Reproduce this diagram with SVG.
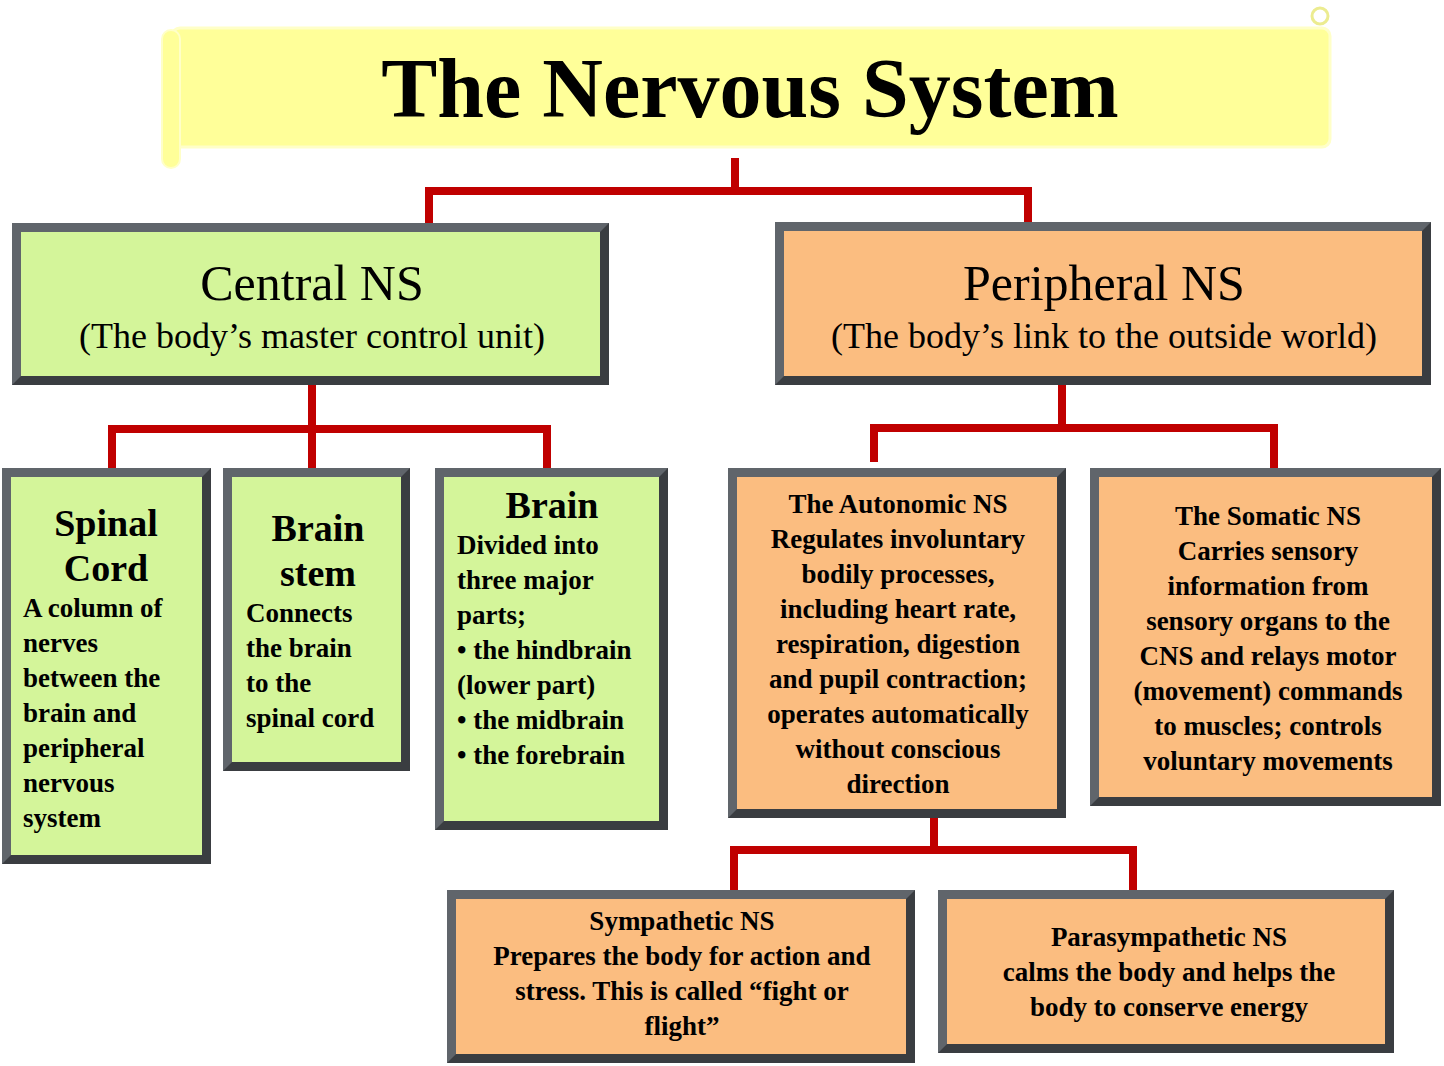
<svg xmlns="http://www.w3.org/2000/svg" width="1444" height="1066" viewBox="0 0 1444 1066">
<style>
.o{fill:#3a3d41}
.hl{fill:#60656b}
.g{fill:#d4f59a}
.p{fill:#fbbd80}
.ln{stroke:#6b6b50;stroke-opacity:.5;stroke-width:2;fill:none}
text{font-family:"Liberation Serif","Times New Roman",serif;fill:#000;text-anchor:middle}
.b{font-weight:bold;font-size:27px}
.n{font-size:27px}
.l{text-anchor:start}
.c{fill:none;stroke:#c00000;stroke-width:8}
</style>
<rect width="1444" height="1066" fill="#fff"/>
<g id="title">
<rect x="172" y="28" width="1158" height="119" rx="8" fill="#ffff99" stroke="#ffffc8" stroke-width="3"/>
<rect x="162" y="30" width="18" height="138" rx="9" fill="#ffff99" stroke="#ffffc8" stroke-width="2"/>
<circle cx="1320" cy="16" r="8" fill="none" stroke="#ecec90" stroke-width="3"/>
<text x="750" y="117" style="font-size:84px;font-weight:bold">The Nervous System</text>
</g>
<g id="connectors">
<path class="c" d="M735 158V191M429 228V191H1028V228"/>
<path class="c" d="M312 385V470M112 470V429H547V470"/>
<path class="c" d="M1062 385V428M874 462V428H1274V470"/>
<path class="c" d="M934 818V850M734 893V850H1133V893"/>
</g>
<g id="central">
<rect class="o" x="12" y="223" width="597" height="162"/><path class="hl" d="M12 223H609L600 232H21V376L12 385Z"/>
<rect class="g" x="21" y="232" width="579" height="144"/>
<text x="312" y="300" style="font-size:50px">Central NS</text>
<text x="312" y="348" style="font-size:36px">(The body’s master control unit)</text>
</g>
<g id="peripheral">
<rect class="o" x="775" y="222" width="656" height="163"/><path class="hl" d="M775 222H1431L1422 231H784V376L775 385Z"/>
<rect class="p" x="784" y="231" width="638" height="145"/>
<text x="1104" y="300" style="font-size:50px">Peripheral NS</text>
<text x="1104" y="348" style="font-size:36px">(The body’s link to the outside world)</text>
</g>
<g id="spinal">
<rect class="o" x="2" y="468" width="209" height="396"/><path class="hl" d="M2 468H211L202 477H11V855L2 864Z"/>
<rect class="g" x="11" y="477" width="191" height="378"/>
<text x="106" y="536" style="font-size:38px;font-weight:bold">Spinal</text>
<text x="106" y="581" style="font-size:38px;font-weight:bold">Cord</text>
<text class="b l" x="23" y="617"><tspan x="23">A column of</tspan><tspan x="23" dy="35">nerves</tspan><tspan x="23" dy="35">between the</tspan><tspan x="23" dy="35">brain and</tspan><tspan x="23" dy="35">peripheral</tspan><tspan x="23" dy="35">nervous</tspan><tspan x="23" dy="35">system</tspan></text>
</g>
<g id="brainstem">
<rect class="o" x="223" y="468" width="187" height="303"/><path class="hl" d="M223 468H410L401 477H232V762L223 771Z"/>
<rect class="g" x="232" y="477" width="169" height="285"/>
<text x="318" y="541" style="font-size:38px;font-weight:bold">Brain</text>
<text x="318" y="586" style="font-size:38px;font-weight:bold">stem</text>
<text class="b l" x="246" y="622"><tspan x="246">Connects</tspan><tspan x="246" dy="35">the brain</tspan><tspan x="246" dy="35">to the</tspan><tspan x="246" dy="35">spinal cord</tspan></text>
</g>
<g id="brain">
<rect class="o" x="435" y="468" width="233" height="362"/><path class="hl" d="M435 468H668L659 477H444V821L435 830Z"/>
<rect class="g" x="444" y="477" width="215" height="344"/>
<text x="552" y="518" style="font-size:38px;font-weight:bold">Brain</text>
<text class="b l" x="457" y="554"><tspan x="457">Divided into</tspan><tspan x="457" dy="35">three major</tspan><tspan x="457" dy="35">parts;</tspan><tspan x="457" dy="35">• the hindbrain</tspan><tspan x="457" dy="35">(lower part)</tspan><tspan x="457" dy="35">• the midbrain</tspan><tspan x="457" dy="35">• the forebrain</tspan></text>
</g>
<g id="autonomic">
<rect class="o" x="728" y="468" width="338" height="350"/><path class="hl" d="M728 468H1066L1057 477H737V809L728 818Z"/>
<rect class="p" x="737" y="477" width="320" height="332"/>
<text class="b" x="898" y="513"><tspan x="898">The Autonomic NS</tspan><tspan x="898" dy="35">Regulates involuntary</tspan><tspan x="898" dy="35">bodily processes,</tspan><tspan x="898" dy="35">including heart rate,</tspan><tspan x="898" dy="35">respiration, digestion</tspan><tspan x="898" dy="35">and  pupil contraction;</tspan><tspan x="898" dy="35">operates automatically</tspan><tspan x="898" dy="35">without conscious</tspan><tspan x="898" dy="35">direction</tspan></text>
</g>
<g id="somatic">
<rect class="o" x="1090" y="468" width="351" height="338"/><path class="hl" d="M1090 468H1441L1432 477H1099V797L1090 806Z"/>
<rect class="p" x="1099" y="477" width="333" height="320"/>
<text class="b" x="1268" y="525"><tspan x="1268">The Somatic NS</tspan><tspan x="1268" dy="35">Carries sensory</tspan><tspan x="1268" dy="35">information from</tspan><tspan x="1268" dy="35">sensory organs to the</tspan><tspan x="1268" dy="35">CNS and relays motor</tspan><tspan x="1268" dy="35">(movement) commands</tspan><tspan x="1268" dy="35">to muscles; controls</tspan><tspan x="1268" dy="35">voluntary movements</tspan></text>
</g>
<g id="sympathetic">
<rect class="o" x="447" y="890" width="468" height="173"/><path class="hl" d="M447 890H915L906 899H456V1054L447 1063Z"/>
<rect class="p" x="456" y="899" width="450" height="155"/>
<text class="b" x="682" y="930"><tspan x="682">Sympathetic  NS</tspan><tspan x="682" dy="35">Prepares the body for action and</tspan><tspan x="682" dy="35">stress. This is called “fight or</tspan><tspan x="682" dy="35">flight”</tspan></text>
</g>
<g id="parasympathetic">
<rect class="o" x="938" y="890" width="456" height="163"/><path class="hl" d="M938 890H1394L1385 899H947V1044L938 1053Z"/>
<rect class="p" x="947" y="899" width="438" height="145"/>
<text class="b" x="1169" y="946"><tspan x="1169">Parasympathetic  NS</tspan><tspan x="1169" dy="35">calms the body and helps the</tspan><tspan x="1169" dy="35">body to conserve energy</tspan></text>
</g>
</svg>
